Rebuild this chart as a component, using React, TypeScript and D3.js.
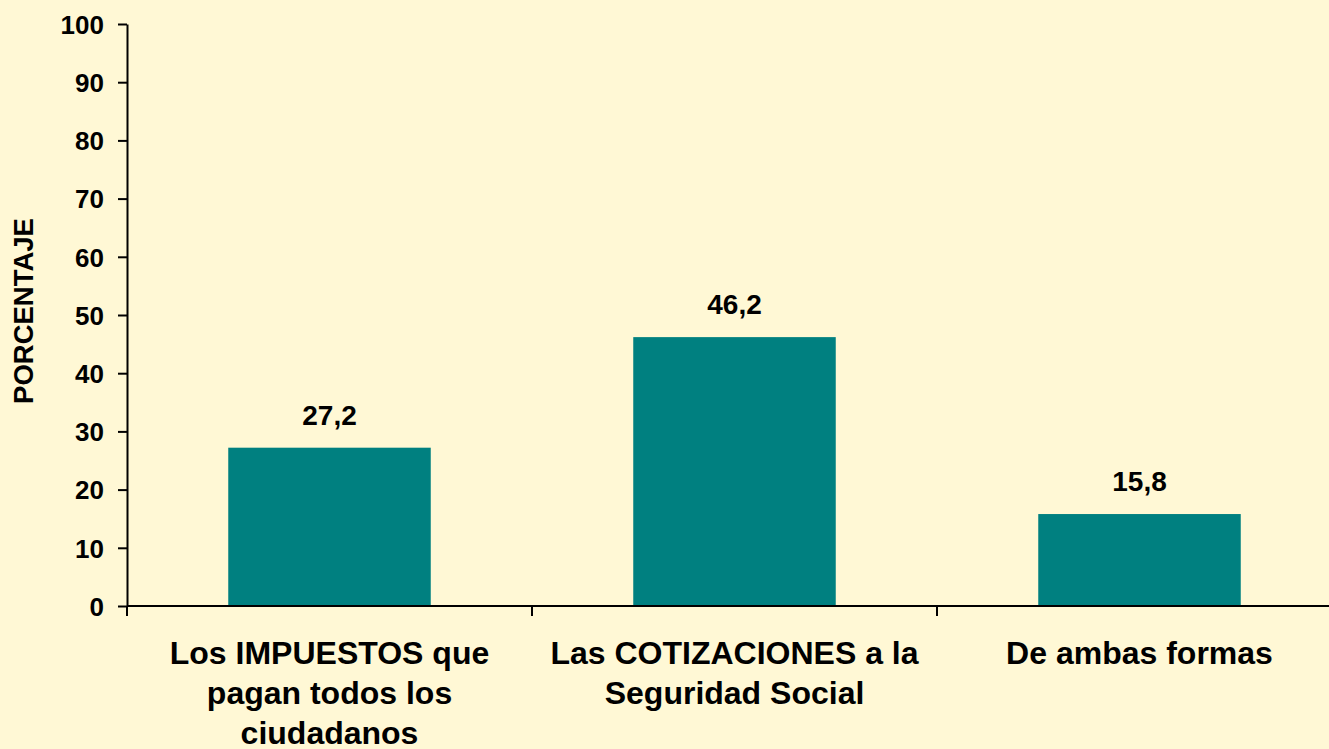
import { useEffect, useRef } from "react";
import { axisLeft, scaleBand, scaleLinear, select, ScaleLinear } from "d3";

// data
const categories = ["impuestos", "cotizaciones", "ambas"];
const categoryLines = [
  ["Los IMPUESTOS que", "pagan todos los", "ciudadanos"],
  ["Las COTIZACIONES a la", "Seguridad Social"],
  ["De ambas formas"],
];
const values = [27.2, 46.2, 15.8];
const valueLabels = ["27,2", "46,2", "15,8"];
const yTicks = [0, 10, 20, 30, 40, 50, 60, 70, 80, 90, 100];
const yTitle = "PORCENTAJE";

const FONT = "'Liberation Sans', Arial, Helvetica, sans-serif";
const BG = "#FFF8D5";
const BAR = "#008080";

function AxisLeft({ scale, x }: { scale: ScaleLinear<number, number>; x: number }) {
  const ref = useRef<SVGGElement>(null);

  useEffect(() => {
    if (ref.current) {
      const g = select(ref.current);
      g.call(
        axisLeft(scale)
          .tickValues(yTicks)
          .tickSize(9)
          .tickSizeOuter(0)
          .tickPadding(14)
      );
      g.attr("font-family", FONT).attr("font-size", 26).attr("font-weight", "bold");
      g.select(".domain").attr("stroke", "#000").attr("stroke-width", 2);
      g.selectAll(".tick line").attr("stroke", "#000").attr("stroke-width", 2);
      g.selectAll(".tick text").attr("fill", "#000").attr("dy", "0.36em");
    }
  }, [scale]);

  return <g ref={ref} transform={`translate(${x},0)`} />;
}

export default function App() {
  const width = 1329;
  const height = 749;
  const left = 127;
  const top = 24;
  const bottom = 606;

  const x = scaleBand<string>()
    .domain(categories)
    .range([left, left + 405 * 3])
    .paddingInner(0.5)
    .paddingOuter(0.25);
  const y = scaleLinear().domain([0, 100]).range([bottom, top]);

  const boundaries = categories.map((c) => (x(c) as number) - x.step() * 0.25);

  return (
    <svg
      width={width}
      height={height}
      style={{ position: "absolute", left: 0, top: 0, background: BG }}
    >
      <rect x={0} y={0} width={width} height={height} fill={BG} />

      {values.map((v, i) => (
        <rect
          key={`bar-${categories[i]}`}
          x={x(categories[i])}
          y={y(v)}
          width={x.bandwidth()}
          height={bottom - y(v)}
          fill={BAR}
        />
      ))}

      {values.map((v, i) => (
        <text
          key={`val-${categories[i]}`}
          x={(x(categories[i]) as number) + x.bandwidth() / 2}
          y={y(v) - 23}
          textAnchor="middle"
          fontFamily={FONT}
          fontSize={28}
          fontWeight="bold"
          fill="#000"
        >
          {valueLabels[i]}
        </text>
      ))}

      {/* x axis */}
      <line x1={left} x2={width} y1={bottom} y2={bottom} stroke="#000" strokeWidth={2} />
      {boundaries.map((b, i) => (
        <line key={`xt-${i}`} x1={b} x2={b} y1={bottom} y2={bottom + 10} stroke="#000" strokeWidth={2} />
      ))}

      <AxisLeft scale={y} x={left} />

      {categoryLines.map((lines, i) => (
        <text
          key={`cat-${categories[i]}`}
          textAnchor="middle"
          fontFamily={FONT}
          fontSize={32}
          fontWeight="bold"
          fill="#000"
        >
          {lines.map((l, j) => (
            <tspan key={j} x={(x(categories[i]) as number) + x.bandwidth() / 2} y={664 + j * 40}>
              {l}
            </tspan>
          ))}
        </text>
      ))}

      <text
        transform={`translate(33, 311) rotate(-90)`}
        textAnchor="middle"
        fontFamily={FONT}
        fontSize={27.5}
        fontWeight="bold"
        fill="#000"
      >
        {yTitle}
      </text>
    </svg>
  );
}
